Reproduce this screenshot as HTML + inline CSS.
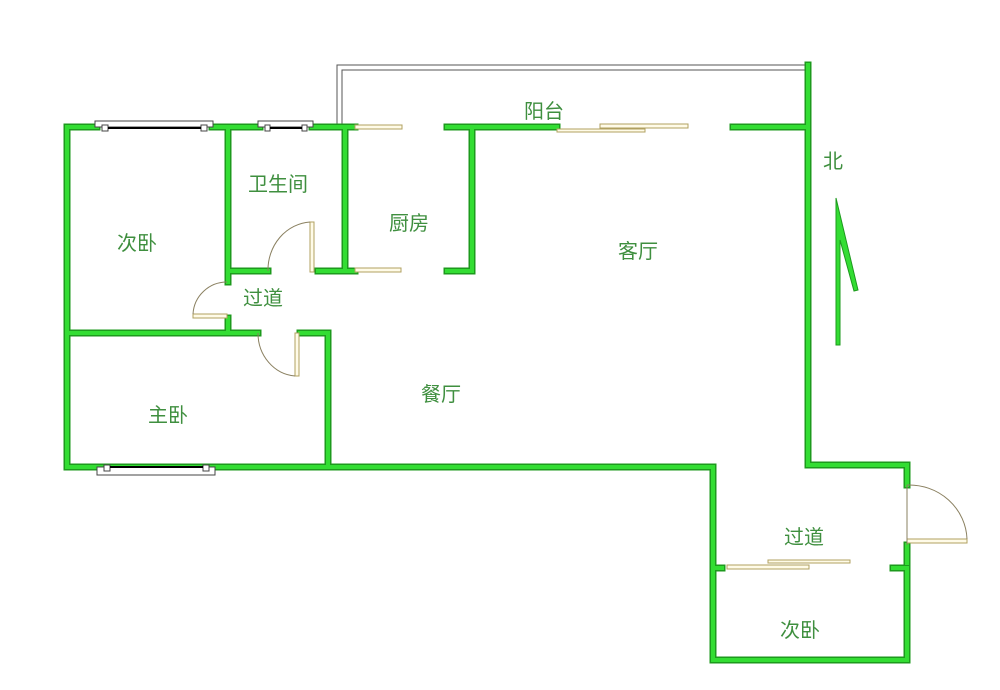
<!DOCTYPE html>
<html><head><meta charset="utf-8"><style>
html,body{margin:0;padding:0;background:#fff;}
svg{display:block}
text{font-family:"Liberation Sans","Noto Sans CJK SC",sans-serif;font-size:20px;fill:#3f8f3f;}
</style></head><body>
<svg width="1000" height="690" viewBox="0 0 1000 690" xmlns="http://www.w3.org/2000/svg">
<rect width="1000" height="690" fill="#fff"/>
<!-- balcony thin outline -->
<path d="M337,127 V65 H808" fill="none" stroke="#555" stroke-width="1"/>
<path d="M342,127 V70 H808" fill="none" stroke="#555" stroke-width="1"/>
<g fill="none" stroke-linecap="square">
<g id="walls" stroke="#1d9a1d" stroke-width="7">
<path d="M97,127 H67 V467 H713 V660 H907 V568"/>
<path d="M907,545 V563"/>
<path d="M907,485 V465 H808 V65"/>
<path d="M212,127 H260"/>
<path d="M312,127 H355"/>
<path d="M228,127 V271 H268"/>
<path d="M318,271 H355"/>
<path d="M345,127 V271"/>
<path d="M447,127 H557"/>
<path d="M447,271 H472 V127"/>
<path d="M733,127 H808"/>
<path d="M228,271 V282"/>
<path d="M228,318 V333"/>
<path d="M67,333 H258"/>
<path d="M300,333 H328 V467"/>
<path d="M713,568 H722"/>
<path d="M893,568 H907"/>
</g>
<g stroke="#33dd33" stroke-width="4">
<path d="M97,127 H67 V467 H713 V660 H907 V568"/>
<path d="M907,545 V563"/>
<path d="M907,485 V465 H808 V65"/>
<path d="M212,127 H260"/>
<path d="M312,127 H355"/>
<path d="M228,127 V271 H268"/>
<path d="M318,271 H355"/>
<path d="M345,127 V271"/>
<path d="M447,127 H557"/>
<path d="M447,271 H472 V127"/>
<path d="M733,127 H808"/>
<path d="M228,271 V282"/>
<path d="M228,318 V333"/>
<path d="M67,333 H258"/>
<path d="M300,333 H328 V467"/>
<path d="M713,568 H722"/>
<path d="M893,568 H907"/>
</g>
</g>
<!-- windows -->
<g fill="#fff" stroke="#444" stroke-width="1">
<rect x="95" y="121" width="118" height="6"/>
<rect x="102" y="125" width="6" height="6"/><rect x="201" y="125" width="6" height="6"/>
<rect x="258" y="121" width="55" height="6"/>
<rect x="265" y="125" width="5" height="6"/><rect x="302" y="125" width="5" height="6"/>
<rect x="97" y="467" width="118" height="8"/>
<rect x="104" y="465" width="6" height="6"/><rect x="203" y="465" width="6" height="6"/>
</g>
<line x1="108" y1="128" x2="201" y2="128" stroke="#000" stroke-width="2"/>
<line x1="270" y1="128" x2="302" y2="128" stroke="#000" stroke-width="2"/>
<line x1="110" y1="467" x2="203" y2="467" stroke="#000" stroke-width="2"/>
<!-- sliding doors / doors (beige) -->
<g fill="#fffbe8" stroke="#b0a060" stroke-width="1">
<rect x="355" y="125" width="47" height="4"/>
<rect x="355" y="268" width="46" height="4"/>
<rect x="557" y="129" width="88" height="3"/>
<rect x="600" y="124" width="88" height="4"/>
<rect x="727" y="565" width="82" height="4"/>
<rect x="768" y="560" width="82" height="3"/>
<rect x="310" y="222" width="4" height="50"/>
<rect x="193" y="314" width="34" height="4"/>
<rect x="295" y="333" width="4" height="43"/>
<rect x="907" y="539" width="60" height="4"/>
</g>
<g fill="none" stroke="#8a8060" stroke-width="1">
<path d="M268,271 A45,48 0 0 1 310,222"/>
<path d="M193,314 A34,34 0 0 1 227,282"/>
<path d="M258,333 A40,43 0 0 0 295,376"/>
<path d="M907,485 A58,56 0 0 1 967,539"/>
<line x1="907" y1="485" x2="907" y2="545"/>
</g>
<!-- north arrow -->
<path d="M836,198 L858,290 L854,291 L840,240 L840,345 L836,345 Z" fill="#33dd33" stroke="#1d9a1d" stroke-width="1"/>
<!-- labels -->
<text x="524" y="118">阳台</text>
<text x="823" y="168">北</text>
<text x="248" y="191">卫生间</text>
<text x="389" y="230">厨房</text>
<text x="117" y="250">次卧</text>
<text x="618" y="258">客厅</text>
<text x="243" y="305">过道</text>
<text x="421" y="401">餐厅</text>
<text x="148" y="422">主卧</text>
<text x="784" y="544">过道</text>
<text x="780" y="637">次卧</text>
</svg>
</body></html>
